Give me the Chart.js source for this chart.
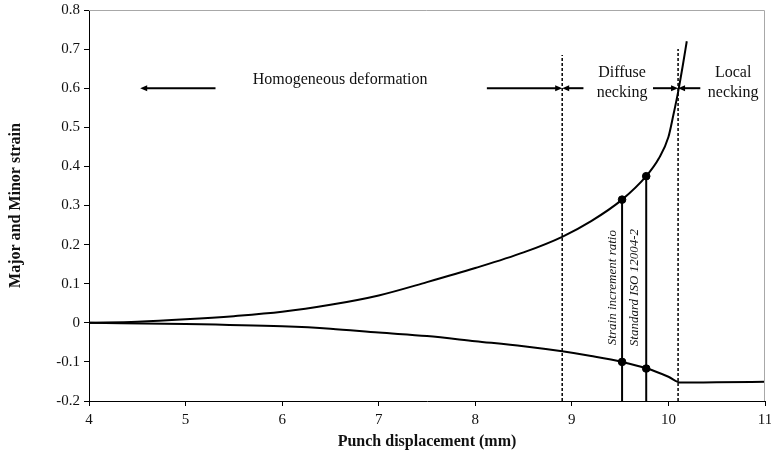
<!DOCTYPE html>
<html>
<head>
<meta charset="utf-8">
<script src="https://cdn.jsdelivr.net/npm/chart.js@4.4.1/dist/chart.umd.min.js"></script>
<style>
  html, body { margin: 0; padding: 0; background: #fff; }
  #wrap { width: 771px; height: 459px; }
</style>
</head>
<body>
<div id="wrap"><canvas id="strainChart" width="771" height="459"></canvas></div>
<script>
// major strain curve (punch displacement in mm)
const displacement = [4, 4.5, 5, 5.5, 6, 6.5, 7, 7.5, 8, 8.5, 8.9, 9.2, 9.52, 9.77, 9.9, 10.0, 10.05, 10.1, 10.15, 10.19];
const majorStrain  = [0, 0.003, 0.009, 0.017, 0.028, 0.046, 0.07, 0.104, 0.14, 0.18, 0.22, 0.26, 0.315, 0.375, 0.42, 0.475, 0.53, 0.59, 0.66, 0.72];

// minor strain curve
const minorDisp   = [4, 5, 6, 6.5, 7, 7.5, 8, 8.5, 8.9, 9.2, 9.52, 9.78, 10.0, 10.13, 10.5, 11];
const minorStrain = [0, -0.003, -0.009, -0.015, -0.025, -0.034, -0.047, -0.06, -0.073, -0.085, -0.1, -0.117, -0.138, -0.153, -0.152, -0.151];

// limits between the zones (dashed) and the two detection methods (solid)
const limitDisp = [8.9, 10.1];
const limitTop = [0.685, 0.70];
const methodDisp = [9.52, 9.77];
const methodMajor = [0.315, 0.375];
const methodMinor = [-0.1, -0.117];
const methodLabels = ['Strain increment ratio', 'Standard ISO 12004-2'];

// zone arrows at strain 0.6
const arrowLevel = 0.6;
const arrowFrom = [5.31, 8.12, 9.12, 9.84, 10.33];
const arrowTo   = [4.53, 8.9, 8.9, 10.1, 10.1];

const zoneLabels = [['Homogeneous deformation'], ['Diffuse', 'necking'], ['Local', 'necking']];
const zoneX = [6.6, 9.52, 10.67];
const zoneY = [0.621, 0.639, 0.639];

const xTicks = [4, 11];
const yTicks = [-0.2, 0.8];

const serif = '"Liberation Serif", "Times New Roman", serif';

function vline(xv, y0, y1){
  return [{x: xv, y: y0}, {x: xv, y: y1}];
}

const annotate = {
  id: 'annotate',
  afterDatasetsDraw(chart){
    const {ctx, chartArea: a} = chart;
    const x = chart.scales.x, y = chart.scales.y;
    ctx.save();

    // grey frame on top and right
    ctx.strokeStyle = '#a8a8a8';
    ctx.lineWidth = 1;
    ctx.beginPath();
    ctx.moveTo(a.left, a.top + 0.5);
    ctx.lineTo(a.right - 0.5, a.top + 0.5);
    ctx.lineTo(a.right - 0.5, a.bottom);
    ctx.stroke();

    // arrows
    ctx.strokeStyle = '#000';
    ctx.fillStyle = '#000';
    ctx.lineWidth = 2;
    const py = y.getPixelForValue(arrowLevel);
    for (let i = 0; i < arrowFrom.length; i++) {
      const p0 = x.getPixelForValue(arrowFrom[i]);
      const p1 = x.getPixelForValue(arrowTo[i]);
      const dir = p1 > p0 ? 1 : -1;
      ctx.beginPath();
      ctx.moveTo(p0, py);
      ctx.lineTo(p1 - dir * 5, py);
      ctx.stroke();
      ctx.beginPath();
      ctx.moveTo(p1, py);
      ctx.lineTo(p1 - dir * 7, py - 3);
      ctx.lineTo(p1 - dir * 7, py + 3);
      ctx.closePath();
      ctx.fill();
    }

    // zone labels
    ctx.font = '16px ' + serif;
    ctx.textAlign = 'center';
    ctx.textBaseline = 'middle';
    ctx.fillStyle = '#111';
    zoneLabels.forEach((lines, i) => {
      const cx = x.getPixelForValue(zoneX[i]);
      const cy = y.getPixelForValue(zoneY[i]);
      lines.forEach((t, j) => ctx.fillText(t, cx, cy + j * 20));
    });

    // method labels, rotated, between the solid lines
    ctx.font = 'italic 13px ' + serif;
    const m0 = x.getPixelForValue(methodDisp[0]);
    const m1 = x.getPixelForValue(methodDisp[1]);
    const labelX = [m0 - 9, (m0 + m1) / 2];
    methodLabels.forEach((t, i) => {
      const cy = y.getPixelForValue(0.09);
      ctx.save();
      ctx.translate(labelX[i], cy);
      ctx.rotate(-Math.PI / 2);
      ctx.fillText(t, 0, 0);
      ctx.restore();
    });

    ctx.restore();
  }
};

const datasets = [
  {
    data: displacement.map((d, i) => ({x: d, y: majorStrain[i]})),
    borderColor: '#000', borderWidth: 2, pointRadius: 0, showLine: true,
    cubicInterpolationMode: 'monotone'
  },
  {
    data: minorDisp.map((d, i) => ({x: d, y: minorStrain[i]})),
    borderColor: '#000', borderWidth: 2, pointRadius: 0, showLine: true,
    cubicInterpolationMode: 'monotone'
  }
];
limitDisp.forEach((d, i) => {
  datasets.push({
    data: vline(d, yTicks[0], limitTop[i]),
    borderColor: '#000', borderWidth: 1.5, borderDash: [3, 2], pointRadius: 0, showLine: true
  });
});
methodDisp.forEach((d, i) => {
  datasets.push({
    data: vline(d, yTicks[0], methodMajor[i]),
    borderColor: '#000', borderWidth: 2, pointRadius: 0, showLine: true
  });
  datasets.push({
    data: [{x: d, y: methodMajor[i]}, {x: d, y: methodMinor[i]}],
    borderColor: '#000', backgroundColor: '#000', pointRadius: 3.8, showLine: false
  });
});

new Chart(document.getElementById('strainChart'), {
  type: 'scatter',
  data: {datasets: datasets},
  options: {
    responsive: false,
    animation: false,
    layout: {padding: {top: 10, right: 6, left: 0, bottom: 0}},
    plugins: {legend: {display: false}, tooltip: {enabled: false}},
    scales: {
      x: {
        type: 'linear',
        min: xTicks[0], max: xTicks[1],
        afterFit(scale){ scale.height = 58; scale.paddingLeft = 0; scale.paddingRight = 0; },
        border: {display: true, color: '#000', width: 1},
        grid: {display: true, drawOnChartArea: false, drawTicks: true, tickLength: 5, color: '#000'},
        ticks: {stepSize: 1, color: '#111', padding: 5, font: {family: serif, size: 15}},
        title: {display: true, text: 'Punch displacement (mm)', color: '#111',
                font: {family: serif, size: 16, weight: 'bold'}, padding: {top: 0, bottom: 8}}
      },
      y: {
        type: 'linear',
        min: yTicks[0], max: yTicks[1],
        afterFit(scale){ scale.width = 89; scale.paddingTop = 0; scale.paddingBottom = 0; },
        border: {display: true, color: '#000', width: 1},
        grid: {display: true, drawOnChartArea: false, drawTicks: true, tickLength: 5, color: '#000'},
        ticks: {stepSize: 0.1, color: '#111', padding: 4, font: {family: serif, size: 15},
                callback: v => Math.abs(v) < 1e-9 ? '0' : v.toFixed(1)},
        title: {display: true, text: 'Major and Minor strain', color: '#111',
                font: {family: serif, size: 16, weight: 'bold'}, padding: {top: 6, bottom: 0}}
      }
    }
  },
  plugins: [annotate]
});
</script>
</body>
</html>
